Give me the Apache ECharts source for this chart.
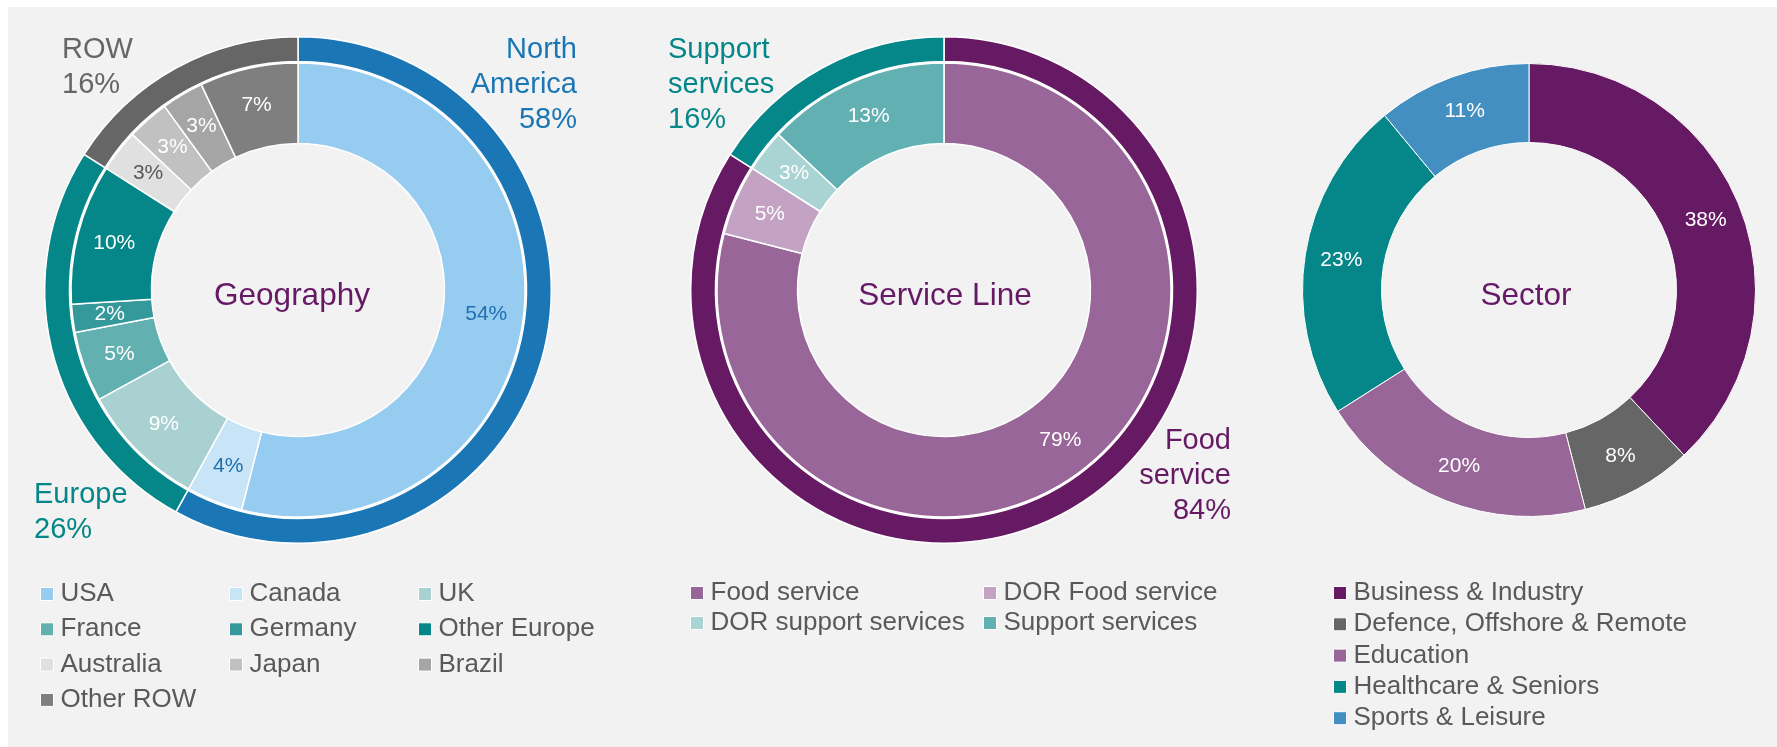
<!DOCTYPE html>
<html>
<head>
<meta charset="utf-8">
<script src="https://cdn.jsdelivr.net/npm/echarts@6/dist/echarts.min.js"></script>
<style>
  html, body { margin: 0; padding: 0; background: #ffffff; overflow: hidden; }
  #panel { position: absolute; left: 8px; top: 7px; width: 1769px; height: 740px; background: #f2f2f2; }
  #chart { position: absolute; left: 0; top: 0; width: 1777px; height: 747px; }
</style>
</head>
<body>
<div id="panel"></div>
<div id="chart"></div>
<script>
// Geography: countries (inner ring) and regions (outer ring), % of revenue
const geoNames = ['USA', 'Canada', 'UK', 'France', 'Germany', 'Other Europe', 'Australia', 'Japan', 'Brazil', 'Other ROW'];
const geoValues = [54, 4, 9, 5, 2, 10, 3, 3, 3, 7];
const regionNames = ['North America', 'Europe', 'ROW'];
const regionValues = [58, 26, 16];

// Service line: detail (inner ring) and totals (outer ring)
const serviceNames = ['Food service', 'DOR Food service', 'DOR support services', 'Support services'];
const serviceValues = [79, 5, 3, 13];
const serviceGroupNames = ['Food service', 'Support services'];
const serviceGroupValues = [84, 16];

// Sector
const sectorNames = ['Business & Industry', 'Defence, Offshore & Remote', 'Education', 'Healthcare & Seniors', 'Sports & Leisure'];
const sectorValues = [38, 8, 20, 23, 11];

// Styling
const FONT = "'Liberation Sans', Arial, sans-serif";
const geoColors = ['#95ccf0', '#c8e4f7', '#aad1d2', '#63b0b1', '#35999b', '#058688', '#e0e0e0', '#c1c1c1', '#a5a5a5', '#7f7f7f'];
const geoLabelColors = ['#1f70b0', '#1f70b0', '#ffffff', '#ffffff', '#ffffff', '#ffffff', '#595959', '#ffffff', '#ffffff', '#ffffff'];
const regionColors = ['#1a76b4', '#058688', '#666666'];
const serviceColors = ['#986698', '#c3a2c4', '#aad3d3', '#63b0b2'];
const serviceGroupColors = ['#661a63', '#058688'];
const sectorColors = ['#661a64', '#666666', '#986698', '#058688', '#438fc1'];

const geoCenter = [298, 290];
const svcCenter = [944, 290];
const secCenter = [1529, 290];

// Placement of the big group labels around the outer rings
const regionLabelPos = [
  { x: 577, y: 33, align: 'right' },
  { x: 34, y: 478, align: 'left' },
  { x: 62, y: 33, align: 'left' }
];
const serviceGroupLabelPos = [
  { x: 1231, y: 424, align: 'right' },
  { x: 668, y: 33, align: 'left' }
];

function items(names, values, colors, labelColors) {
  return names.map((n, i) => ({
    name: n,
    value: values[i],
    itemStyle: { color: colors[i] },
    label: labelColors ? { color: labelColors[i] } : undefined
  }));
}

const sliceLabel = {
  show: true,
  position: 'inside',
  formatter: '{c}%',
  fontFamily: FONT,
  fontSize: 21,
  color: '#ffffff'
};

function groupLabel() {
  return {
    show: true,
    position: 'outside',
    fontFamily: FONT,
    fontSize: 29,
    lineHeight: 34.6,
    formatter: p => p.name.replace(' ', '\n') + '\n' + p.value + '%'
  };
}

function legendItems(names, colors, idx) {
  return idx.map(i => ({ name: names[i], itemStyle: { color: colors[i], borderColor: '#ffffff', borderWidth: 1 } }));
}

function legend(left, top, gap, data) {
  return {
    orient: 'vertical',
    left: left,
    top: top,
    padding: 0,
    itemGap: gap,
    itemWidth: 13,
    itemHeight: 13,
    icon: 'rect',
    selectedMode: false,
    textStyle: { fontFamily: FONT, fontSize: 26, lineHeight: 26, color: '#595959', padding: [0, 0, 0, 2] },
    data: data
  };
}

const centerText = (x, y, text) => ({
  type: 'text',
  x: x,
  y: y,
  style: { text: text, align: 'center', verticalAlign: 'middle', fontFamily: FONT, fontSize: 31.5, fill: '#661a66' }
});

const chart = echarts.init(document.getElementById('chart'), null, { renderer: 'canvas' });

chart.setOption({
  backgroundColor: 'transparent',
  animation: false,
  graphic: [
    centerText(292, 296, 'Geography'),
    centerText(945, 296, 'Service Line'),
    centerText(1526, 296, 'Sector')
  ],
  legend: [
    legend(40, 581, 9.3, legendItems(geoNames, geoColors, [0, 3, 6, 9])),
    legend(229, 581, 9.3, legendItems(geoNames, geoColors, [1, 4, 7])),
    legend(418, 581, 9.3, legendItems(geoNames, geoColors, [2, 5, 8])),
    legend(690, 580, 4, legendItems(serviceNames, serviceColors, [0, 2])),
    legend(983, 580, 4, legendItems(serviceNames, serviceColors, [1, 3])),
    legend(1333, 580, 5.3, legendItems(sectorNames, sectorColors, [0, 1, 2, 3, 4]))
  ],
  series: [
    {
      type: 'pie', name: 'Geography',
      center: geoCenter, radius: [146.5, 227],
      startAngle: 90, clockwise: true, avoidLabelOverlap: false,
      itemStyle: { borderColor: '#ffffff', borderWidth: 1.5 },
      label: sliceLabel, labelLine: { show: false }, emphasis: { disabled: true },
      data: items(geoNames, geoValues, geoColors, geoLabelColors)
    },
    {
      type: 'pie', name: 'Region',
      center: geoCenter, radius: [228.5, 253.3],
      startAngle: 90, clockwise: true, avoidLabelOverlap: false,
      itemStyle: { borderColor: '#ffffff', borderWidth: 1.5 },
      label: groupLabel(), labelLine: { show: false }, emphasis: { disabled: true },
      labelLayout: p => Object.assign({ verticalAlign: 'top' }, regionLabelPos[p.dataIndex]),
      data: items(regionNames, regionValues, regionColors, regionColors)
    },
    {
      type: 'pie', name: 'Service Line',
      center: svcCenter, radius: [146.5, 227],
      startAngle: 90, clockwise: true, avoidLabelOverlap: false,
      itemStyle: { borderColor: '#ffffff', borderWidth: 1.5 },
      label: sliceLabel, labelLine: { show: false }, emphasis: { disabled: true },
      data: items(serviceNames, serviceValues, serviceColors)
    },
    {
      type: 'pie', name: 'Service Group',
      center: svcCenter, radius: [228.5, 253.3],
      startAngle: 90, clockwise: true, avoidLabelOverlap: false,
      itemStyle: { borderColor: '#ffffff', borderWidth: 1.5 },
      label: groupLabel(), labelLine: { show: false }, emphasis: { disabled: true },
      labelLayout: p => Object.assign({ verticalAlign: 'top' }, serviceGroupLabelPos[p.dataIndex]),
      data: items(serviceGroupNames, serviceGroupValues, serviceGroupColors, serviceGroupColors)
    },
    {
      type: 'pie', name: 'Sector',
      center: secCenter, radius: [147.5, 226.5],
      startAngle: 90, clockwise: true, avoidLabelOverlap: false,
      itemStyle: { borderColor: '#ffffff', borderWidth: 1 },
      label: sliceLabel, labelLine: { show: false }, emphasis: { disabled: true },
      data: items(sectorNames, sectorValues, sectorColors)
    }
  ]
});
</script>
</body>
</html>
